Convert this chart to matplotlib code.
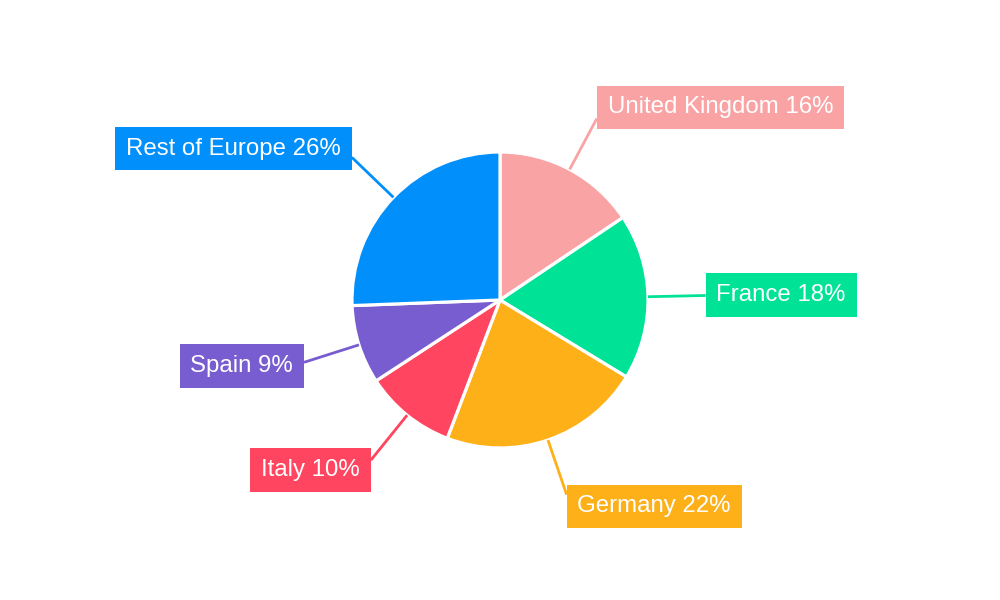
import numpy as np
import matplotlib
matplotlib.use("Agg")
import matplotlib.pyplot as plt

categories = ["United Kingdom", "France", "Germany", "Italy", "Spain", "Rest of Europe"]
values = [15.6, 18.1, 22.1, 10.0, 8.6, 25.6]
colors = ["#F9A3A4", "#00E396", "#FEB019", "#FF4560", "#775DD0", "#008FFB"]

plt.rcParams['font.family'] = ['Liberation Sans', 'DejaVu Sans']

W, H, DPI = 1000, 600, 100
R_PX = 148.0
fig = plt.figure(figsize=(W / DPI, H / DPI), dpi=DPI)
ax = fig.add_axes([0, 0, 1, 1])
ax.pie(values, colors=colors, startangle=90, counterclock=False, radius=1.0,
       wedgeprops=dict(edgecolor="white", linewidth=2.3))
ax.set_xlim(-W / 2 / R_PX, W / 2 / R_PX)
ax.set_ylim(-H / 2 / R_PX, H / 2 / R_PX)
ax.set_aspect('equal')
ax.axis('off')

total = sum(values)
cum = 0.0
fs = 17.3
pad = 0.45
r_end = 1.39
for cat, v, c in zip(categories, values, colors):
    mid = (cum + v / 2) / total * 2 * np.pi  # clockwise from top
    cum += v
    sx, sy = np.sin(mid), np.cos(mid)
    x0, y0 = sx * 1.0, sy * 1.0
    x1, y1 = sx * r_end, sy * r_end
    ax.plot([x0, x1], [y0, y1], color=c, lw=2.0, solid_capstyle='butt', zorder=1)
    right = sx >= 0
    pad_pt = pad * fs
    dx = pad_pt if right else -pad_pt
    dy = 9.0 * sy
    pct = int(np.floor(v / total * 100 + 0.5))
    ax.annotate(f"{cat} {pct}%", xy=(x1, y1), xytext=(dx, dy), textcoords='offset points',
                ha='left' if right else 'right', va='center', fontsize=fs, color='white',
                bbox=dict(boxstyle=f'square,pad={pad}', fc=c, ec='none'), zorder=3)

fig.savefig("out.png", dpi=DPI, facecolor='white')
